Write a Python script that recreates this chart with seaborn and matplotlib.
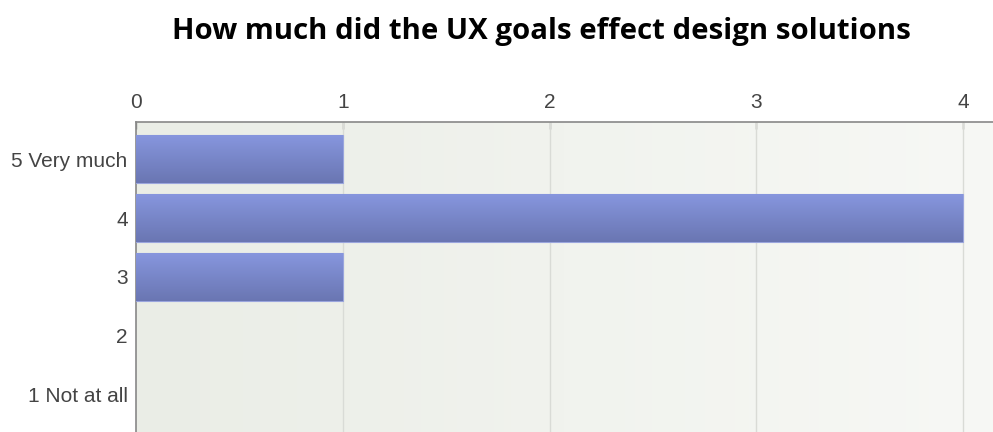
import numpy as np
import pandas as pd
import matplotlib
matplotlib.use("Agg")
import matplotlib.pyplot as plt
from matplotlib.colors import LinearSegmentedColormap
import seaborn as sns

categories = ["5 Very much", "4", "3", "2", "1 Not at all"]
counts = [1, 4, 1, 0, 0]
x_ticks = [0, 1, 2, 3, 4]
title = "How much did the UX goals effect design solutions"

df = pd.DataFrame({"answer": categories, "count": counts})

sns.set_theme(style="white")
plt.rcParams["font.family"] = ["Liberation Sans", "DejaVu Sans"]

fig = plt.figure(figsize=(9.93, 4.32), dpi=100)
fig.patch.set_facecolor("white")
ax = fig.add_axes([136 / 993, 0.0, 1 - 136 / 993, 1 - 122 / 432])

sns.barplot(data=df, x="count", y="answer", orient="h", color="#7a87c9",
            width=0.81, ax=ax, zorder=3)

XMAX = (993 - 136) / 206.75
YLIM = (4.63, -0.63)

# background gradient
bg = LinearSegmentedColormap.from_list("bg", ["#eaede6", "#f1f3ee", "#f7f8f5"])
grad = np.linspace(0, 1, 256).reshape(1, -1)
ax.imshow(grad, cmap=bg, aspect="auto", extent=[0, XMAX, YLIM[0], YLIM[1]],
          zorder=0)

# bar gradients
barcmap = LinearSegmentedColormap.from_list("bar", ["#6a76b2", "#7886c8", "#8796de"])
vgrad = np.linspace(0, 1, 256).reshape(-1, 1)
for p in list(ax.patches):
    w = p.get_width()
    if w <= 0:
        p.set_visible(False)
        continue
    x0, y0 = p.get_x(), p.get_y()
    h = p.get_height()
    im = ax.imshow(vgrad, cmap=barcmap, aspect="auto",
                   extent=[x0, x0 + w, y0 + h, y0], zorder=4, origin="lower")
    im.set_clip_path(p)
    p.set_edgecolor("#9aa5dd")
    p.set_linewidth(0.8)
ax.set_xlim(0, XMAX)
ax.set_ylim(*YLIM)

# gridlines
for t in x_ticks[1:]:
    ax.axvline(t, color="#d9dbd6", linewidth=1.0, zorder=1)

ax.xaxis.tick_top()
ax.set_xticks(x_ticks)
ax.set_xticklabels([str(t) for t in x_ticks])
ax.tick_params(axis="x", which="both", top=True, bottom=False, direction="in",
               length=5, width=1, color="#888888", labelsize=15,
               labelcolor="#444444", pad=7)
ax.tick_params(axis="y", left=False, length=0, labelsize=15,
               labelcolor="#444444", pad=6)
ax.set_xlabel("")
ax.set_ylabel("")

for s in ["right", "bottom"]:
    ax.spines[s].set_visible(False)
for s in ["top", "left"]:
    ax.spines[s].set_visible(True)
    ax.spines[s].set_color("#888888")
    ax.spines[s].set_linewidth(1.2)

fig.text(541 / 993, 1 - 31 / 432, title, ha="center", va="center",
         fontsize=21.2, fontweight="bold", color="black",
         family=["Open Sans", "DejaVu Sans"])

fig.savefig("out.png", dpi=100)
